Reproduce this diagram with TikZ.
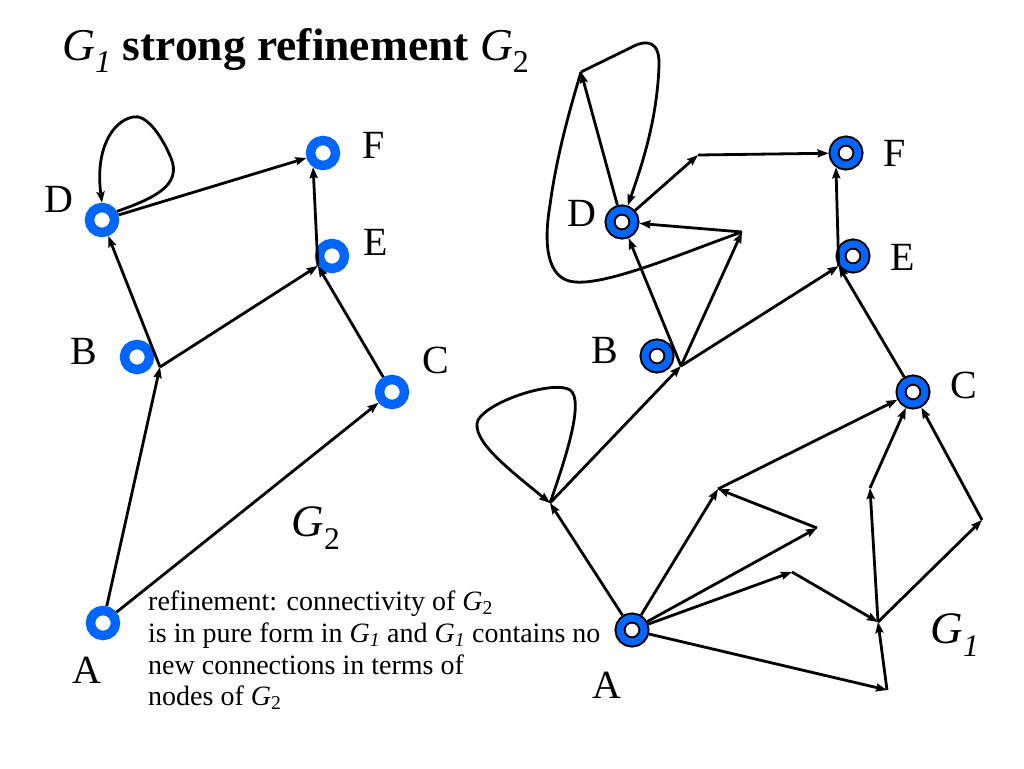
\documentclass[tikz,border=0pt]{standalone}
\usepackage{fontspec}
\setmainfont{Liberation Serif}
\usetikzlibrary{arrows.meta}
\definecolor{ringblue}{RGB}{0,102,255}
\begin{document}
\begin{tikzpicture}[x=1pt,y=-1pt,
  lring/.style={circle, inner sep=0pt, minimum size=25pt, draw=ringblue, line width=9.5pt, fill=white},
  rring/.style={circle, inner sep=0pt, minimum size=24pt, draw=black, line width=2pt, double=ringblue, double distance=7pt, fill=white, outer sep=5.5pt},
  lbl/.style={font=\fontsize{40}{42}\selectfont, inner sep=0pt},
  glbl/.style={font=\fontsize{45}{47}\selectfont, inner sep=0pt},
  txt/.style={font=\fontsize{28}{31}\selectfont, inner sep=0pt, anchor=base west},
  arr/.style={line width=2.8pt, -{Stealth[length=11pt,width=8pt,inset=1.5pt]}},
  ln/.style={line width=2.8pt}]
\useasboundingbox (0,0) rectangle (1024,768);

% title
\node[font=\fontsize{45.5}{48}\selectfont, inner sep=0pt, anchor=base west] (title) at (62,60)
  {\textit{G}\textsubscript{\textit{1}} \textbf{strong refinement} \textit{G}\textsubscript{2}};

% ---------- G2 (left) ----------
\node[lring] (lD) at (102,220) {};
\node[lring] (lF) at (323,153) {};
\node[lring] (lE) at (332,256) {};
\node[lring] (lB) at (137,357) {};
\node[lring] (lC) at (392,392) {};
\node[lring] (lA) at (103,623) {};
\coordinate (lJ) at (160,367);

\node[lbl] (tlD) at (59,199) {D};
\node[lbl] (tlF) at (374,145) {F};
\node[lbl] (tlE) at (376,242) {E};
\node[lbl] (tlB) at (84,351) {B};
\node[lbl] (tlC) at (436,360) {C};
\node[lbl] (tlA) at (87,670) {A};
\node[glbl] (tG2) at (316,528) {\textit{G}\textsubscript{2}};

\draw[arr] (lA) -- (lJ);
\draw[arr] (lJ) -- (lD);
\draw[arr] (lJ) -- (lE.215);
\draw[arr] (lC) -- (lE.215);
\draw[arr] (lE.215) -- (lF.235);
\draw[arr] (lD) -- (lF);
\draw[arr] (lA) -- (lC);
\draw[arr] (lD.30) .. controls (155,198) and (182,185) .. (171,158)
  .. controls (160,132) and (145,114) .. (133,117)
  .. controls (112,121) and (95,150) .. (lD.north);

% text
\node[txt] (t1) at (148,610) {refinement: connectivity of \textit{G}\textsubscript{2}};
\node[txt] (t2) at (148,642) {is in pure form in \textit{G}\textsubscript{\textit{1}} and \textit{G}\textsubscript{\textit{1}} contains no};
\node[txt] (t3) at (148,674) {new connections in terms of};
\node[txt] (t4) at (148,705) {nodes of \textit{G}\textsubscript{2}};

% ---------- G1 (right) ----------
\node[rring] (rD) at (622,222) {};
\node[rring] (rF) at (846,153) {};
\node[rring] (rE) at (853,256) {};
\node[rring] (rB) at (657,356) {};
\node[rring] (rC) at (913,392) {};
\node[rring] (rA) at (632,630) {};

\node[lbl] (trD) at (582,213) {D};
\node[lbl] (trF) at (895,153) {F};
\node[lbl] (trE) at (903,257) {E};
\node[lbl] (trB) at (605,350) {B};
\node[lbl] (trC) at (964,385) {C};
\node[lbl] (trA) at (607,685) {A};
\node[glbl] (tG1) at (955,635) {\textit{G}\textsubscript{\textit{1}}};

\coordinate (rP1) at (581,72);
\coordinate (rP2) at (698,155);
\coordinate (rP3) at (742,232);
\coordinate (rJ) at (681,366);
\coordinate (rQ) at (550,503);
\coordinate (rR1) at (718,489);
\coordinate (rR2) at (817,528);
\coordinate (rR3) at (792,572);
\coordinate (rR4) at (878,622);
\coordinate (rR5) at (887,690);
\coordinate (rR6) at (870,488);
\coordinate (rR7) at (982,520);

\draw[arr] (rD) -- (rP1);
\draw[arr] (rP1) -- (630,48) .. controls (648,38) and (660,42) .. (659,66)
  .. controls (657,120) and (642,165) .. (rD);
\draw[ln] (rP3) .. controls (690,250) and (610,285) .. (575,282)
  .. controls (545,280) and (544,240) .. (550,205)
  .. controls (556,160) and (568,115) .. (rP1);
\draw[arr] (rD) -- (rP2);
\draw[arr] (rP2) -- (rF);
\draw[arr] (rA) -- (rQ);
\draw[arr] (rQ) .. controls (565,460) and (585,400) .. (570,390)
  .. controls (555,380) and (490,400) .. (478,420)
  .. controls (470,440) and (510,470) .. (rQ);
\draw[arr] (rQ) -- (rJ);
\draw[arr] (rJ) -- (rD);
\draw[arr] (rJ) -- (rP3);
\draw[arr] (rP3) -- (rD);
\draw[arr] (rJ) -- (rE.215);
\draw[arr] (rC) -- (rE.215);
\draw[arr] (rE.215) -- (rF.235);
\draw[arr] (rA) -- (rR1);
\draw[arr] (rR1) -- (rC);
\draw[arr] (rA) -- (rR2);
\draw[arr] (rR2) -- (rR1);
\draw[arr] (rA) -- (rR3);
\draw[arr] (rR3) -- (rR4);
\draw[arr] (rA) -- (rR5);
\draw[arr] (rR5) -- (rR4);
\draw[arr] (rR4) -- (rR6);
\draw[arr] (rR6) -- (rC);
\draw[arr] (rR4) -- (rR7);
\draw[arr] (rR7) -- (rC);
\end{tikzpicture}
\end{document}
